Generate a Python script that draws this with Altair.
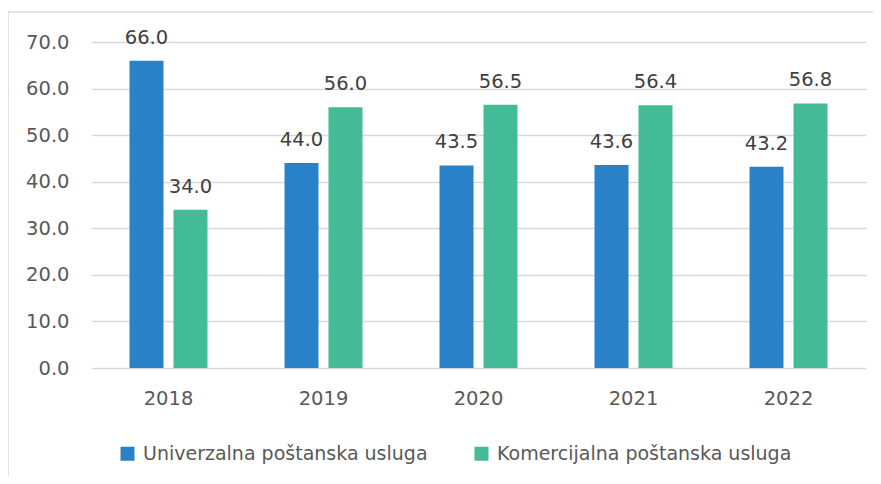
import altair as alt
import pandas as pd

years = ["2018", "2019", "2020", "2021", "2022"]
univerzalna = [66.0, 44.0, 43.5, 43.6, 43.2]
komercijalna = [34.0, 56.0, 56.5, 56.4, 56.8]
series_names = ["Univerzalna poštanska usluga", "Komercijalna poštanska usluga"]
colors = ["#2981C7", "#43BB97"]

rows = []
for i, y in enumerate(years):
    rows.append({"year": y, "series": series_names[0], "value": univerzalna[i]})
    rows.append({"year": y, "series": series_names[1], "value": komercijalna[i]})
df = pd.DataFrame(rows)

FONT = "DejaVu Sans"
FS = 19.5

x_enc = alt.X("year:N", sort=years, title=None,
              scale=alt.Scale(paddingInner=0.497, paddingOuter=0.2485),
              axis=alt.Axis(labelAngle=0, labelFontSize=FS, labelColor="#595959",
                            labelFont=FONT, labelPadding=21, ticks=False,
                            domain=False, grid=False))
xoff = alt.XOffset("series:N", sort=series_names,
                   scale=alt.Scale(paddingInner=0.227, paddingOuter=0))
y_enc = alt.Y("value:Q", title=None,
              scale=alt.Scale(domain=[0, 70], nice=False),
              axis=alt.Axis(values=[0, 10, 20, 30, 40, 50, 60, 70], format=".1f",
                            labelFontSize=FS, labelColor="#595959", labelFont=FONT,
                            labelPadding=22, ticks=False, domain=False,
                            gridColor="#D9D9D9", gridWidth=1.5))

base = alt.Chart(df)

bars = base.mark_bar().encode(
    x=x_enc,
    xOffset=xoff,
    y=y_enc,
    color=alt.Color("series:N", sort=series_names,
                    scale=alt.Scale(domain=series_names, range=colors),
                    legend=alt.Legend(title=None, orient="none", direction="horizontal",
                                      legendX=27, legendY=402, symbolType="square",
                                      symbolSize=196, symbolStrokeWidth=0,
                                      labelFontSize=19, labelColor="#595959",
                                      labelFont=FONT, columnPadding=44, labelOffset=6,
                                      labelLimit=400)),
)

labels = base.mark_text(fontSize=FS, font=FONT, color="#404040",
                        baseline="alphabetic", dy=-17).encode(
    x=alt.X("year:N", sort=years),
    xOffset=alt.XOffset("series:N", sort=series_names),
    y="value:Q",
    text=alt.Text("value:Q", format=".1f"),
)

border = alt.Chart(pd.DataFrame({"a": [1]})).mark_rect(
    fill=None, stroke="#D9D9D9", strokeWidth=1.5).encode(
    x=alt.value(-83), x2=alt.value(820), y=alt.value(-30), y2=alt.value(470))

chart = alt.layer(border, bars, labels).properties(
    width=775, height=326,
    autosize=alt.AutoSizeParams(type="none"),
    padding={"left": 83, "top": 34, "right": 7, "bottom": 108},
).configure_view(stroke=None)

chart.save("out.html", embed_options={"renderer": "svg", "actions": False})
